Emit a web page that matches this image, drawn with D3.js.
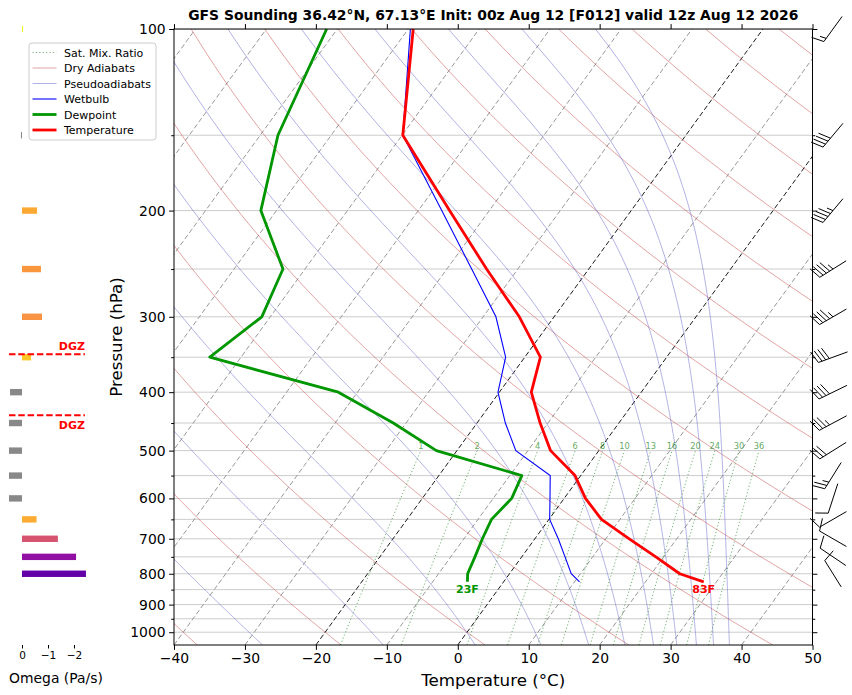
<!DOCTYPE html>
<html>
<head>
<meta charset="utf-8">
<script src="https://cdn.jsdelivr.net/npm/d3@7"></script>
<style>
  body { margin: 0; background: #fff; }
  text { font-family: "DejaVu Sans", sans-serif; }
</style>
</head>
<body>
<svg id="chart" width="852" height="695"></svg>
<script>
// sounding profile (hPa, degC)
const levels = [100, 150, 200, 250, 300, 350, 400, 450, 500, 550, 600, 650, 700, 750, 800, 825];
const temperature = [-69.3, -59.9, -45.6, -34.4, -24.9, -17.8, -15.5, -11.1, -6.8, -0.8, 3.0, 7.4, 13.3, 18.9, 24.0, 28.2];
const dewpoint = [-81.5, -77.5, -72.2, -63.1, -61.2, -64.4, -42.7, -31.8, -22.9, -8.3, -7.4, -8.1, -7.4, -6.6, -5.9, -5.1];
const wetbulb = [-69.7, -59.9, -46.7, -36.5, -28.2, -22.7, -20.2, -16.0, -11.7, -4.3, -2.0, 0.1, 3.3, 6.1, 8.7, 10.7];

// winds (kt, direction from)
const windLevels = [100, 150, 200, 250, 300, 350, 400, 450, 500, 550, 600, 650, 700, 750, 800];
const windSpeed = [15, 40, 45, 45, 45, 40, 40, 35, 30, 25, 10, 10, 10, 10, 10];
const windDir = [216, 220, 220, 238, 240, 250, 244, 242, 238, 212, 198, 240, 300, 304, 328];

// omega (Pa/s)
const omegaLevels = [100, 150, 200, 250, 300, 350, 400, 450, 500, 550, 600, 650, 700, 750, 800];
const omega = [-0.04, 0.04, -0.58, -0.73, -0.77, -0.35, 0.46, 0.5, 0.5, 0.5, 0.5, -0.56, -1.38, -2.08, -2.46];
const dgzPressure = [346, 437];
const omegaTicks = [0, -1, -2];

// axes
const pressureTicks = [100, 200, 300, 400, 500, 600, 700, 800, 900, 1000];
const pressureMinor = [150, 250, 350, 450, 550, 650, 750, 850, 950];
const tempTicks = [-40, -30, -20, -10, 0, 10, 20, 30, 40, 50];

// background lines
const isotherms = [-100, -90, -80, -70, -60, -50, -40, -30, -10, 10, 20, 30, 40, 50];
const keyIsotherms = [-20, 0];
const dryAdiabatT0 = [-40, -20, 0, 20, 40, 60, 80, 100, 120, 140, 160, 180, 200, 220, 240];
const pseudoTheta = [223.15, 243.15, 263.15, 283.15, 303.15, 323.15, 343.15, 363.15, 383.15, 403.15, 423.15, 443.15];
const mixingRatios = [1, 2, 4, 6, 8, 10, 13, 16, 20, 24, 30, 36];

const title = 'GFS Sounding 36.42°N, 67.13°E Init: 00z Aug 12 [F012] valid 12z Aug 12 2026';

const svg = d3.select('#chart');
const plot = { left: 174, right: 812.5, top: 29, bottom: 645 };

const x = d3.scaleLinear().domain([-40, 50]).range([plot.left, plot.right]);
const y = d3.scaleLog().domain([1050, 100]).range([plot.bottom, plot.top]);
const skew = Math.tan(35 * Math.PI / 180) * (plot.right - plot.left) / (plot.bottom - plot.top);
const sx = (t, p) => x(t) + skew * (plot.bottom - y(p));
const line = d3.line().x((d) => sx(d[1], d[0])).y((d) => y(d[0]));

// thermo helpers
const Rd = 287.04749, Cp = 1004.6662, Lv = 2.50084e6, eps = 0.6219569, kappa = Rd / Cp;
const satVap = (tK) => 6.112 * Math.exp(17.67 * (tK - 273.15) / (tK - 273.15 + 243.5));
const satMix = (p, tK) => { const e = satVap(tK); return eps * e / (p - e); };
const moistLapse = (p, tK) => {
  const rs = satMix(p, tK);
  return (Rd * tK + Lv * rs) / (Cp + Lv * Lv * rs * eps / (Rd * tK * tK)) / p;
};
function pseudoadiabat(theta) {
  let p = 100, t = theta * Math.pow(0.1, kappa);
  const pts = [[p, t - 273.15]];
  while (p < 1050) {
    const h = Math.min(2, 1050 - p);
    const k1 = moistLapse(p, t);
    const k2 = moistLapse(p + h / 2, t + h / 2 * k1);
    const k3 = moistLapse(p + h / 2, t + h / 2 * k2);
    const k4 = moistLapse(p + h, t + h * k3);
    t += h / 6 * (k1 + 2 * k2 + 2 * k3 + k4);
    p += h;
    pts.push([p, t - 273.15]);
  }
  return pts;
}
const pRange = d3.range(1050, 99, -5);

// clip
svg.append('defs').append('clipPath').attr('id', 'plotClip')
  .append('rect')
  .attr('x', plot.left).attr('y', plot.top)
  .attr('width', plot.right - plot.left).attr('height', plot.bottom - plot.top);

const bg = svg.append('g').attr('clip-path', 'url(#plotClip)');

// pressure gridlines
bg.append('g')
  .selectAll('line')
  .data(pressureTicks.concat(pressureMinor))
  .join('line')
  .attr('x1', plot.left).attr('x2', plot.right)
  .attr('y1', (d) => y(d)).attr('y2', (d) => y(d))
  .attr('stroke', '#cccccc').attr('stroke-width', 1);

// isotherms
bg.append('g')
  .selectAll('path')
  .data(isotherms)
  .join('path')
  .attr('d', (t) => line([[1050, t], [100, t]]))
  .attr('stroke', '#999999').attr('stroke-width', 1)
  .attr('stroke-dasharray', '5,2.6').attr('fill', 'none');

bg.append('g')
  .selectAll('path')
  .data(keyIsotherms)
  .join('path')
  .attr('d', (t) => line([[1050, t], [100, t]]))
  .attr('stroke', '#000').attr('stroke-width', 0.9)
  .attr('stroke-dasharray', '5,2.6').attr('fill', 'none');

// dry adiabats
bg.append('g')
  .selectAll('path')
  .data(dryAdiabatT0)
  .join('path')
  .attr('d', (t0) => line(pRange.map((p) => [p, (t0 + 273.15) * Math.pow(p / 1000, kappa) - 273.15])))
  .attr('stroke', 'rgb(200,80,80)').attr('stroke-opacity', 0.65)
  .attr('stroke-width', 0.8).attr('fill', 'none');

// pseudoadiabats
bg.append('g')
  .selectAll('path')
  .data(pseudoTheta)
  .join('path')
  .attr('d', (th) => line(pseudoadiabat(th)))
  .attr('stroke', 'rgb(90,90,200)').attr('stroke-opacity', 0.6)
  .attr('stroke-width', 0.8).attr('fill', 'none');

// saturation mixing ratio lines
const mixT = (w, p) => {
  const e = (w / 1000) * p / (eps + w / 1000);
  const l = Math.log(e / 6.112);
  return 243.5 * l / (17.67 - l);
};
const pMix = d3.range(1050, 499, -10);
bg.append('g')
  .selectAll('path')
  .data(mixingRatios)
  .join('path')
  .attr('d', (w) => line(pMix.map((p) => [p, mixT(w, p)])))
  .attr('stroke', 'rgb(40,140,40)').attr('stroke-opacity', 0.75)
  .attr('stroke-width', 0.9).attr('stroke-dasharray', '1.2,2.2').attr('fill', 'none');

bg.append('g')
  .selectAll('text')
  .data(mixingRatios)
  .join('text')
  .attr('x', (w) => sx(mixT(w, 500), 500))
  .attr('y', y(500) - 1.5)
  .attr('text-anchor', 'middle')
  .attr('font-size', 8.3)
  .attr('fill', 'rgb(40,140,40)').attr('fill-opacity', 0.75)
  .text((w) => w);

// profiles
const prof = (arr) => levels.map((p, i) => [p, arr[i]]);
const fg = svg.append('g');
fg.append('path').attr('d', line(prof(wetbulb)))
  .attr('stroke', 'blue').attr('stroke-width', 1.1).attr('fill', 'none');
fg.append('path').attr('d', line(prof(dewpoint)))
  .attr('stroke', 'rgb(0,150,0)').attr('stroke-width', 2.8).attr('fill', 'none')
  .attr('stroke-linejoin', 'round');
fg.append('path').attr('d', line(prof(temperature)))
  .attr('stroke', 'red').attr('stroke-width', 2.8).attr('fill', 'none')
  .attr('stroke-linejoin', 'round');

const sfc = levels.length - 1;
const toF = (c) => Math.round(c * 9 / 5 + 32) + 'F';
fg.append('text')
  .attr('x', sx(temperature[sfc], levels[sfc])).attr('y', y(levels[sfc]) + 11.5)
  .attr('text-anchor', 'middle').attr('font-size', 11).attr('font-weight', 'bold')
  .attr('fill', 'red').text(toF(temperature[sfc]));
fg.append('text')
  .attr('x', sx(dewpoint[sfc], levels[sfc])).attr('y', y(levels[sfc]) + 11.5)
  .attr('text-anchor', 'middle').attr('font-size', 11).attr('font-weight', 'bold')
  .attr('fill', 'rgb(0,150,0)').text(toF(dewpoint[sfc]));

// spines
const axesG = svg.append('g');
axesG.append('rect')
  .attr('x', plot.left).attr('y', plot.top)
  .attr('width', plot.right - plot.left).attr('height', plot.bottom - plot.top)
  .attr('fill', 'none').attr('stroke', '#000').attr('stroke-width', 1);

// bottom / top ticks
const xAxis = axesG.append('g').attr('transform', `translate(0,${plot.bottom})`)
  .call(d3.axisBottom(x).tickValues(tempTicks).tickSize(4.9).tickPadding(3.5)
    .tickFormat((d) => String(d).replace('-', '\u2212')));
xAxis.select('.domain').remove();
xAxis.selectAll('text').attr('font-size', 13.9).attr('font-family', '"DejaVu Sans", sans-serif');

const xTop = axesG.append('g').attr('transform', `translate(0,${plot.top})`)
  .call(d3.axisTop(x).tickValues(tempTicks).tickSize(4.9).tickFormat(''));
xTop.select('.domain').remove();

// left / right ticks
const yAxis = axesG.append('g').attr('transform', `translate(${plot.left},0)`)
  .call(d3.axisLeft(y).tickValues(pressureTicks).tickSize(4.9).tickPadding(3.5).tickFormat(d3.format('d')));
yAxis.select('.domain').remove();
yAxis.selectAll('text').attr('font-size', 13.9).attr('font-family', '"DejaVu Sans", sans-serif');
const yMinor = axesG.append('g').attr('transform', `translate(${plot.left},0)`)
  .call(d3.axisLeft(y).tickValues(pressureMinor).tickSize(2.8).tickFormat(''));
yMinor.select('.domain').remove();

const yRight = axesG.append('g').attr('transform', `translate(${plot.right},0)`)
  .call(d3.axisRight(y).tickValues(pressureTicks).tickSize(4.9).tickFormat(''));
yRight.select('.domain').remove();
const yRightMinor = axesG.append('g').attr('transform', `translate(${plot.right},0)`)
  .call(d3.axisRight(y).tickValues(pressureMinor).tickSize(2.8).tickFormat(''));
yRightMinor.select('.domain').remove();

// labels
svg.append('text')
  .attr('x', (plot.left + plot.right) / 2).attr('y', 20)
  .attr('text-anchor', 'middle').attr('font-size', 13.9).attr('font-weight', 'bold')
  .text(title);
svg.append('text')
  .attr('x', (plot.left + plot.right) / 2).attr('y', 686)
  .attr('text-anchor', 'middle').attr('font-size', 16.7)
  .text('Temperature (°C)');
svg.append('text')
  .attr('transform', `translate(122,${(plot.top + plot.bottom) / 2}) rotate(-90)`)
  .attr('text-anchor', 'middle').attr('font-size', 16.7)
  .text('Pressure (hPa)');

// wind barbs (matplotlib-style, pivot middle)
function barbPath(speed, dir) {
  const L = 31, spacing = 0.125 * L, fh = 0.4 * L, fw = 0.25 * L;
  let mag = Math.round(speed / 5) * 5;
  const nflags = Math.floor(mag / 50); mag -= nflags * 50;
  const nbarbs = Math.floor(mag / 10); mag -= nbarbs * 10;
  const half = mag >= 5;
  const endy = -L / 2;
  const rad = dir * Math.PI / 180;
  const u = -speed * Math.sin(rad), v = -speed * Math.cos(rad);
  const rot = Math.atan2(v, u) + Math.PI / 2;
  const tr = ([px, py]) => {
    const X = px * Math.cos(rot) - py * Math.sin(rot);
    const Y = px * Math.sin(rot) + py * Math.cos(rot);
    return [X, -Y];
  };
  const segs = [];
  const flags = [];
  segs.push([[0, endy], [0, endy + L]]);
  let offset = L;
  for (let i = 0; i < nflags; i++) {
    if (offset !== L) offset += spacing / 2;
    flags.push([[0, endy + offset], [fh, endy - fw / 2 + offset], [0, endy - fw + offset]]);
    offset -= fw + spacing;
  }
  for (let i = 0; i < nbarbs; i++) {
    segs.push([[0, endy + offset], [fh, endy + offset + fw / 2]]);
    offset -= spacing;
  }
  if (half) {
    if (offset === L) offset -= 1.5 * spacing;
    segs.push([[0, endy + offset], [fh / 2, endy + offset + fw / 4]]);
  }
  return segs.map((s) => 'M' + s.map((pt) => tr(pt).join(',')).join('L')).join('') +
    flags.map((f) => 'M' + f.map((pt) => tr(pt).join(',')).join('L') + 'Z').join('');
}

const barbX = 833;
svg.append('g')
  .selectAll('path')
  .data(windLevels)
  .join('path')
  .attr('transform', (p) => `translate(${barbX},${y(p)})`)
  .attr('d', (p, i) => barbPath(windSpeed[i], windDir[i]))
  .attr('stroke', '#000').attr('stroke-width', 1)
  .attr('fill', 'none').attr('stroke-linejoin', 'round');

// omega panel
const xo = d3.scaleLinear().domain([0.5, -2.42]).range([9, 84.9]);
const omegaColor = d3.scaleSequential(d3.interpolatePlasma).domain([-3, 0]);
const og = svg.append('g');
og.selectAll('rect')
  .data(omegaLevels)
  .join('rect')
  .attr('x', (p, i) => Math.min(xo(0), xo(omega[i])))
  .attr('width', (p, i) => Math.abs(xo(omega[i]) - xo(0)))
  .attr('y', (p) => y(p) - 3.2)
  .attr('height', 6.4)
  .attr('fill', (p, i) => (omega[i] > 0 ? '#888888' : omegaColor(omega[i])));

og.selectAll('line.dgz')
  .data(dgzPressure)
  .join('line')
  .attr('class', 'dgz')
  .attr('x1', xo.range()[0]).attr('x2', xo.range()[1])
  .attr('y1', (p) => y(p)).attr('y2', (p) => y(p))
  .attr('stroke', 'red').attr('stroke-width', 2)
  .attr('stroke-dasharray', '6.5,2.8');

og.selectAll('text.dgz')
  .data(dgzPressure)
  .join('text')
  .attr('class', 'dgz')
  .attr('x', xo.range()[1]).attr('y', (p, i) => (i === 0 ? y(p) - 4 : y(p) + 14))
  .attr('text-anchor', 'end').attr('font-size', 11).attr('font-weight', 'bold')
  .attr('fill', 'red').text('DGZ');

const oAxis = og.append('g').attr('transform', `translate(0,${plot.bottom})`)
  .call(d3.axisBottom(xo).tickValues(omegaTicks).tickSize(3.5).tickPadding(3)
    .tickFormat((d) => String(d).replace('-', '\u2212')));
oAxis.select('.domain').remove();
oAxis.selectAll('text').attr('font-size', 10.5).attr('font-family', '"DejaVu Sans", sans-serif');

svg.append('text')
  .attr('x', 56).attr('y', 683)
  .attr('text-anchor', 'middle').attr('font-size', 13.9)
  .text('Omega (Pa/s)');

// legend
const legendItems = [
  { label: 'Sat. Mix. Ratio', color: 'rgb(40,140,40)', width: 0.9, dash: '1.2,2.2', opacity: 0.75 },
  { label: 'Dry Adiabats', color: 'rgb(200,80,80)', width: 0.8, dash: null, opacity: 0.65 },
  { label: 'Pseudoadiabats', color: 'rgb(90,90,200)', width: 0.8, dash: null, opacity: 0.6 },
  { label: 'Wetbulb', color: 'blue', width: 1.1, dash: null, opacity: 1 },
  { label: 'Dewpoint', color: 'rgb(0,150,0)', width: 2.8, dash: null, opacity: 1 },
  { label: 'Temperature', color: 'red', width: 2.8, dash: null, opacity: 1 },
];
const lg = svg.append('g').attr('transform', 'translate(29,43)');
lg.append('rect')
  .attr('width', 127).attr('height', 97).attr('rx', 3)
  .attr('fill', 'white').attr('fill-opacity', 0.85)
  .attr('stroke', '#cccccc').attr('stroke-width', 1);
const rows = lg.selectAll('g.row')
  .data(legendItems)
  .join('g')
  .attr('class', 'row')
  .attr('transform', (d, i) => `translate(0,${9.5 + i * 15.5})`);
rows.append('line')
  .attr('x1', 3.5).attr('x2', 27.5)
  .attr('stroke', (d) => d.color).attr('stroke-width', (d) => d.width)
  .attr('stroke-opacity', (d) => d.opacity)
  .attr('stroke-dasharray', (d) => d.dash);
rows.append('text')
  .attr('x', 35).attr('y', 4)
  .attr('font-size', 11)
  .text((d) => d.label);
</script>
</body>
</html>
